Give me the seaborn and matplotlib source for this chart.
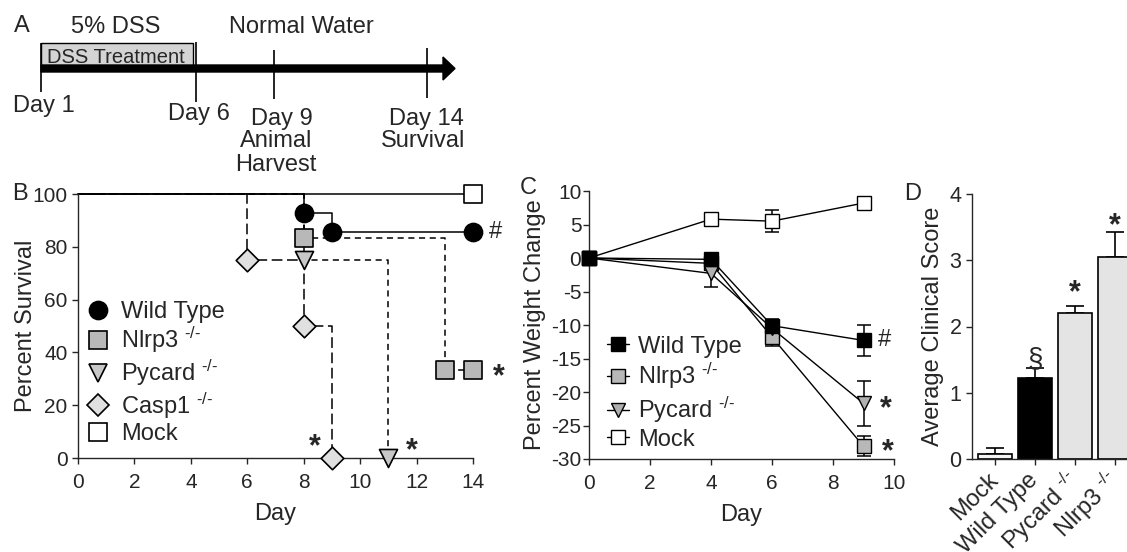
import numpy as np
import pandas as pd
import matplotlib
matplotlib.use("Agg")
import matplotlib.pyplot as plt
from matplotlib.lines import Line2D
from matplotlib.patches import Rectangle
import seaborn as sns

sns.set_style("ticks")
plt.rcParams['font.family'] = ['Liberation Sans', 'DejaVu Sans']
plt.rcParams['mathtext.fontset'] = 'custom'
plt.rcParams['mathtext.rm'] = 'Liberation Sans'
plt.rcParams['mathtext.default'] = 'regular'
plt.rcParams['axes.unicode_minus'] = False
plt.rcParams['axes.linewidth'] = 1.0
plt.rcParams['xtick.major.width'] = 1.0
plt.rcParams['ytick.major.width'] = 1.0
plt.rcParams['xtick.major.size'] = 4
plt.rcParams['ytick.major.size'] = 4

KO = r"$^{\text{-/-}}$"

# ---- panel A: timeline labels
stop_labels = ["Day 1", "Day 6", "Day 9", "Day 14"]
stop_notes = ["", "", "Animal", "Survival"]

# ---- panel B: Kaplan-Meier survival (%)
wt_day = [0, 8, 9, 14]
wt_pct = [100, 92.9, 85.7, 85.7]
nlrp3_day = [0, 8, 13, 14]
nlrp3_pct = [100, 83.3, 33.3, 33.3]
pycard_day = [0, 8, 11]
pycard_pct = [100, 75, 0]
casp1_day = [0, 6, 8, 9]
casp1_pct = [100, 75, 50, 0]
mock_day = [0, 14]
mock_pct = [100, 100]

# ---- panel C: weight change (%)
wt_days = [0, 4, 6, 9]
wt_weight = [0, -0.2, -10.1, -12.3]
wt_err = [0, 0.3, 1.0, 2.3]
nlrp3_weight = [0, -0.8, -11.8, -28.1]
nlrp3_err = [0, 0.5, 1.3, 1.5]
pycard_weight = [0, -2.3, -10.5, -21.7]
pycard_err = [0, 2.1, 1.0, 3.3]
mock_weight = [0, 5.8, 5.5, 8.2]
mock_err = [0, 0.3, 1.6, 0.8]

# ---- panel D: clinical score
score_groups = ["Mock", "Wild Type", "Pycard", "Nlrp3"]
score_labels = ["Mock", "Wild Type", "Pycard " + KO, "Nlrp3 " + KO]
score_mean = [0.08, 1.23, 2.20, 3.05]
score_sem = [0.09, 0.14, 0.11, 0.37]

W, H = 1127, 552
fig = plt.figure(figsize=(W / 100, H / 100), dpi=100)

# panel A drawn in pixel coordinates
axA = fig.add_axes([0, 0, 1, 1], zorder=-1)
axA.set_xlim(0, W)
axA.set_ylim(H, 0)
axA.axis('off')
fs = 17
axA.text(14, 32, "A", fontsize=fs, va='baseline')
axA.text(116, 33, "5% DSS", fontsize=fs, ha='center', va='baseline')
axA.text(301, 33, "Normal Water", fontsize=fs, ha='center', va='baseline')
axA.add_patch(Rectangle((41, 43), 152, 25, fc='#d4d4d4', ec='k', lw=1))
axA.text(116, 63, "DSS Treatment", fontsize=14.5, ha='center', va='baseline')
axA.arrow(41, 68.5, 402, 0, width=7, head_width=23, head_length=12,
          fc='k', ec='k', length_includes_head=False)
stop_x = [41, 196, 274, 427]
axA.vlines(stop_x, [43, 42, 50, 48], [92, 102, 99, 98], color='k', lw=1.2)
axA.text(13, 112, stop_labels[0], fontsize=fs, va='baseline')
axA.text(168, 120, stop_labels[1], fontsize=fs, va='baseline')
axA.text(282, 125, stop_labels[2], fontsize=fs, ha='center', va='baseline')
axA.text(276, 147, stop_notes[2], fontsize=fs, ha='center', va='baseline')
axA.text(276, 171, "Harvest", fontsize=fs, ha='center', va='baseline')
axA.text(426, 125, stop_labels[3], fontsize=fs, ha='center', va='baseline')
axA.text(423, 147, stop_notes[3], fontsize=fs, ha='center', va='baseline')

# panel letters
fig.text(12 / W, 1 - 194 / H, "B", fontsize=fs, va='center')
fig.text(520 / W, 1 - 188 / H, "C", fontsize=fs, va='center')
fig.text(904 / W, 1 - 194 / H, "D", fontsize=fs, va='center')

# ---------------- panel B
axB = fig.add_axes([78 / W, 1 - 458 / H, 395 / W, 264 / H])
axB.set_facecolor('none')
surv = [
    (mock_day, mock_pct, 's', 'white', 12.5, '-'),
    (casp1_day, casp1_pct, 'D', '#e0e0e0', 11.5, (0, (7, 3))),
    (pycard_day, pycard_pct, 'v', '#c8c8c8', 13, (0, (4, 3))),
    (nlrp3_day, nlrp3_pct, 's', '#b8b8b8', 12.5, (0, (4, 3))),
    (wt_day, wt_pct, 'o', 'black', 13, '-'),
]
for d, p, m, fc, ms, ls in surv:
    sns.lineplot(x=d, y=p, drawstyle='steps-post', color='k', lw=1.1,
                 linestyle=ls, ax=axB, clip_on=False, zorder=2)
    sns.scatterplot(x=d[1:], y=p[1:], marker=m, s=ms ** 2, color=fc,
                    edgecolor='k', linewidth=1.2, ax=axB, clip_on=False, zorder=3)
axB.set_xlim(0, 14)
axB.set_ylim(0, 100)
axB.set_xticks(range(0, 15, 2))
axB.set_yticks(range(0, 101, 20))
axB.tick_params(labelsize=15)
axB.tick_params(axis='x', pad=7)
axB.set_xlabel("Day", fontsize=fs, labelpad=8)
axB.set_ylabel("Percent Survival", fontsize=fs, labelpad=-3)
sns.despine(ax=axB)
axB.text(14.78, 85.7, "#", fontsize=fs, ha='center', va='center')
for x, y in [(14.92, 30.7), (8.4, 3.9), (11.83, 2.7)]:
    axB.text(x, y, "*", fontsize=22, fontweight='bold', ha='center', va='center')
b_handles = [
    Line2D([], [], ls='none', marker='o', ms=13, mfc='black', mec='k', mew=1.2),
    Line2D([], [], ls='none', marker='s', ms=12.5, mfc='#b8b8b8', mec='k', mew=1.2),
    Line2D([], [], ls='none', marker='v', ms=13, mfc='#c8c8c8', mec='k', mew=1.2),
    Line2D([], [], ls='none', marker='D', ms=11.5, mfc='#e0e0e0', mec='k', mew=1.2),
    Line2D([], [], ls='none', marker='s', ms=12.5, mfc='white', mec='k', mew=1.2),
]
axB.legend(b_handles, ["Wild Type", "Nlrp3 " + KO, "Pycard " + KO,
                       "Casp1 " + KO, "Mock"],
           loc='upper left', bbox_to_anchor=(0.02, 0.595), frameon=False,
           fontsize=fs, handlelength=1.0, handletextpad=0.5, labelspacing=0.1,
           borderpad=0, borderaxespad=0)

# ---------------- panel C
axC = fig.add_axes([589 / W, 1 - 459 / H, 305 / W, 268 / H])
axC.set_facecolor('none')
weights = [
    (mock_weight, mock_err, 's', 'white', 10),
    (nlrp3_weight, nlrp3_err, 's', '#b8b8b8', 10),
    (pycard_weight, pycard_err, 'v', '#b0b0b0', 10),
    (wt_weight, wt_err, 's', 'black', 10),
]
for y, e, m, fc, ms in weights:
    axC.errorbar(wt_days, y, yerr=e, fmt='none', ecolor='k', elinewidth=1.1,
                 capsize=4.7, capthick=1.1, zorder=2, clip_on=False)
    sns.lineplot(x=wt_days, y=y, color='k', lw=1.0, marker=m, markersize=ms,
                 markerfacecolor=fc, markeredgecolor='k', markeredgewidth=1.0,
                 ax=axC, clip_on=False, zorder=3)
axC.set_xlim(0, 10)
axC.set_ylim(-30, 10)
axC.set_xticks(range(0, 11, 2))
axC.set_yticks(range(-30, 11, 5))
axC.tick_params(labelsize=15)
axC.tick_params(axis='x', pad=7)
axC.tick_params(axis='y', pad=1.5)
axC.set_xlabel("Day", fontsize=fs, labelpad=8)
axC.set_ylabel("Percent Weight Change", fontsize=fs, labelpad=4)
sns.despine(ax=axC)
axC.text(9.7, -12.2, "#", fontsize=fs, ha='center', va='center')
axC.text(9.74, -22.6, "*", fontsize=22, fontweight='bold', ha='center', va='center')
axC.text(9.8, -29.0, "*", fontsize=22, fontweight='bold', ha='center', va='center')
c_handles = [
    Line2D([], [], color='k', lw=1, marker='s', ms=10, mfc='black', mec='k'),
    Line2D([], [], color='k', lw=1, marker='s', ms=10, mfc='#b8b8b8', mec='k'),
    Line2D([], [], color='k', lw=1, marker='v', ms=10, mfc='#b0b0b0', mec='k'),
    Line2D([], [], color='k', lw=1, marker='s', ms=10, mfc='white', mec='k'),
]
axC.legend(c_handles, ["Wild Type", "Nlrp3 " + KO, "Pycard " + KO, "Mock"],
           loc='upper left', bbox_to_anchor=(0.06, 0.46), frameon=False,
           fontsize=fs, handlelength=0.9, handletextpad=0.4, labelspacing=0.15,
           borderpad=0, borderaxespad=0)

# ---------------- panel D
axD = fig.add_axes([972 / W, 1 - 459 / H, 167 / W, 265 / H])
axD.set_facecolor('none')
sns.barplot(x=score_groups, y=score_mean, hue=score_groups,
            palette=["#f4f4f4", "black", "#e4e4e4", "#e4e4e4"], legend=False,
            errorbar=None, width=0.85, edgecolor='k', linewidth=1.2, ax=axD,
            zorder=2)
axD.errorbar(range(len(score_groups)), score_mean,
             yerr=[np.zeros(len(score_sem)), score_sem], fmt='none', ecolor='k',
             elinewidth=1.2, capsize=6.5, capthick=1.2, zorder=1)
axD.set_xlim(-0.575, 3.6)
axD.set_ylim(0, 4)
axD.set_yticks(range(0, 5))
axD.set_xticks(range(len(score_groups)))
axD.set_xticklabels(score_labels, rotation=45, ha='right', va='center',
                    rotation_mode='anchor')
axD.tick_params(axis='y', labelsize=15.5)
axD.tick_params(axis='x', labelsize=17, pad=9)
axD.set_xlabel("")
axD.set_ylabel("Average Clinical Score", fontsize=fs, labelpad=4)
sns.despine(ax=axD)
axD.text(1, 1.5, "§", fontsize=20, ha='center', va='center')
axD.text(2, 2.5, "*", fontsize=22, fontweight='bold', ha='center', va='center')
axD.text(3, 3.52, "*", fontsize=22, fontweight='bold', ha='center', va='center')

fig.savefig("out.png", dpi=100)
